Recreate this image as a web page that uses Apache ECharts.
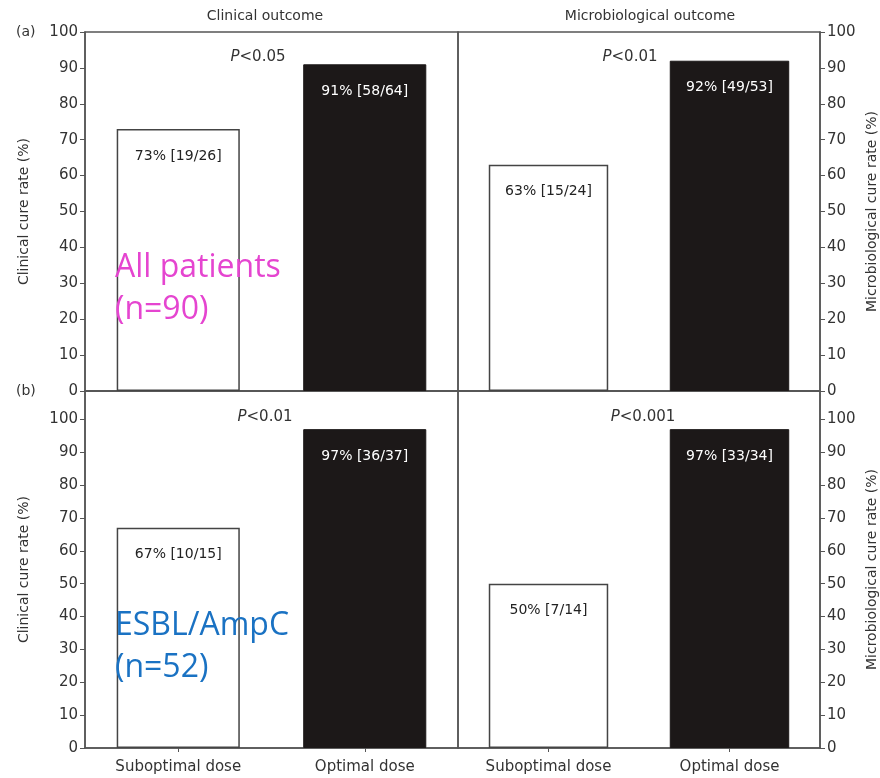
<!DOCTYPE html>
<html>
<head>
<meta charset="utf-8">
<script src="https://cdn.jsdelivr.net/npm/echarts@6/dist/echarts.min.js"></script>
<style>
  html, body { margin: 0; padding: 0; background: #fff; }
  #chart { width: 880px; height: 778px; }
</style>
</head>
<body>
<div id="chart"></div>
<script>
// Dose groups on the x axis
const categories = ['Suboptimal dose', 'Optimal dose'];

// Cure rates (%) and counts for each panel
const allClinical = [73, 91];
const allClinicalCounts = ['19/26', '58/64'];
const allMicro = [63, 92];
const allMicroCounts = ['15/24', '49/53'];
const esblClinical = [67, 97];
const esblClinicalCounts = ['10/15', '36/37'];
const esblMicro = [50, 97];
const esblMicroCounts = ['7/14', '33/34'];

// Significance for each panel
const pValues = ['<0.05', '<0.01', '<0.01', '<0.001'];

// Y tick labels
const yTicks = [0, 10, 20, 30, 40, 50, 60, 70, 80, 90, 100];

const panelTitles = ['Clinical outcome', 'Microbiological outcome'];

const FONT = '"DejaVu Sans", "Open Sans", sans-serif';
const INK = '#333';
const LINE = '#555';

const chart = echarts.init(document.getElementById('chart'));

// panel geometry and axis settings
const panels = [
  { left: 85,  top: 32,  width: 373, height: 359, max: 100,   side: 'left',  name: 'Clinical cure rate (%)', labels: false },
  { left: 458, top: 32,  width: 364, height: 359, max: 100,   side: 'right', name: 'Microbiological cure rate (%)', labels: false },
  { left: 85,  top: 391, width: 373, height: 357, max: 108.6, side: 'left',  name: 'Clinical cure rate (%)', labels: true },
  { left: 458, top: 391, width: 364, height: 357, max: 108.6, side: 'right', name: 'Microbiological cure rate (%)', labels: true }
];

const panelData = [
  [allClinical, allClinicalCounts],
  [allMicro, allMicroCounts],
  [esblClinical, esblClinicalCounts],
  [esblMicro, esblMicroCounts]
];

const grid = panels.map(p => ({
  left: p.left, top: p.top, width: p.width, height: p.height,
  show: true, borderColor: LINE, borderWidth: 1.5, backgroundColor: 'transparent'
}));

const xAxis = panels.map((p, i) => ({
  type: 'category', gridIndex: i, data: categories,
  axisLine: { show: true, lineStyle: { color: LINE, width: 1.5 } },
  axisTick: { show: p.labels, alignWithLabel: true, length: 4, lineStyle: { color: LINE } },
  axisLabel: { show: p.labels, color: INK, fontFamily: FONT, fontSize: 15, margin: 12 }
}));

const yAxis = panels.map((p, i) => ({
  type: 'value', gridIndex: i, min: 0, max: p.max, position: p.side,
  splitLine: { show: false },
  axisLine: { show: true, lineStyle: { color: LINE, width: 1.5 } },
  axisTick: { show: true, length: 5, customValues: yTicks, lineStyle: { color: LINE } },
  axisLabel: { color: INK, fontFamily: FONT, fontSize: 15, margin: 7, customValues: yTicks },
  name: p.name, nameLocation: 'middle', nameRotate: 90,
  nameGap: p.side === 'left' ? 54 : 45,
  nameTextStyle: { color: INK, fontFamily: FONT, fontSize: 14 }
}));

const series = panelData.map((d, i) => ({
  type: 'bar', xAxisIndex: i, yAxisIndex: i, barWidth: '66%',
  data: d[0].map((v, j) => ({
    value: v,
    itemStyle: j === 0
      ? { color: '#fff', borderColor: '#444', borderWidth: 1.5 }
      : { color: '#1c1818', borderColor: '#1c1818', borderWidth: 1 },
    label: { color: j === 0 ? '#222' : '#fff' }
  })),
  label: {
    show: true, position: 'insideTop', distance: 20,
    fontFamily: FONT, fontSize: 14,
    formatter: (prm) => prm.value + '% [' + d[1][prm.dataIndex] + ']'
  },
  silent: true
}));

// P-value annotations, panel headings and group captions
const pPos = [[258, 57], [630, 57], [265, 417], [643, 417]];
const graphics = pValues.map((pv, i) => ({
  type: 'text', x: pPos[i][0], y: pPos[i][1], z: 100,
  style: {
    text: '{i|P}' + pv, fill: INK, font: '15px ' + FONT,
    align: 'center', verticalAlign: 'middle',
    rich: { i: { fontStyle: 'italic', fontFamily: FONT, fontSize: 15, fill: INK } }
  }
}));
graphics.push(
  { type: 'text', x: 265, y: 16, z: 100, style: { text: panelTitles[0], fill: INK, font: '14px ' + FONT, align: 'center', verticalAlign: 'middle' } },
  { type: 'text', x: 650, y: 16, z: 100, style: { text: panelTitles[1], fill: INK, font: '14px ' + FONT, align: 'center', verticalAlign: 'middle' } },
  { type: 'text', x: 16, y: 32, z: 100, style: { text: '(a)', fill: INK, font: '14px ' + FONT, align: 'left', verticalAlign: 'middle' } },
  { type: 'text', x: 16, y: 391, z: 100, style: { text: '(b)', fill: INK, font: '14px ' + FONT, align: 'left', verticalAlign: 'middle' } },
  { type: 'text', x: 115, y: 289, z: 100, style: { text: 'All patients\n(n=90)', fill: '#e545d0', font: '32px "Open Sans", sans-serif', lineHeight: 42, align: 'left', verticalAlign: 'middle' } },
  { type: 'text', x: 115, y: 647, z: 100, style: { text: 'ESBL/AmpC\n(n=52)', fill: '#1a72c3', font: '32px "Open Sans", sans-serif', lineHeight: 42, align: 'left', verticalAlign: 'middle' } }
);

chart.setOption({
  animation: false,
  backgroundColor: '#fff',
  grid, xAxis, yAxis, series,
  graphic: { elements: graphics }
});
</script>
</body>
</html>
